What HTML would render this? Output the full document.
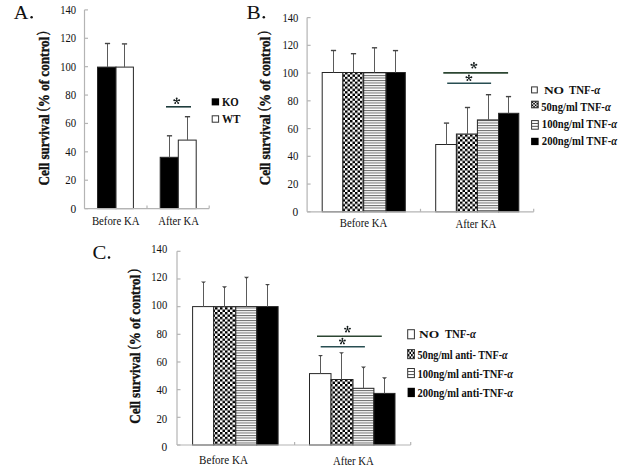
<!DOCTYPE html><html><head><meta charset="utf-8"><style>html,body{margin:0;padding:0;background:#fff;}svg{display:block;}text{font-family:"Liberation Serif",serif;fill:#111;}</style></head><body>
<svg width="628" height="471" viewBox="0 0 628 471">
<defs>
<pattern id="chk" width="5.0" height="4.8" patternUnits="userSpaceOnUse"><rect width="5.0" height="4.8" fill="#fff"/><rect x="0" y="0" width="2.5" height="2.4" fill="#000"/><rect x="2.5" y="2.4" width="2.5" height="2.4" fill="#000"/></pattern>
<pattern id="str" width="4" height="2.5" patternUnits="userSpaceOnUse"><rect width="4" height="2.5" fill="#fff"/><rect x="0" y="0" width="4" height="1.0" fill="#6a6a6a"/></pattern>
</defs>
<rect width="628" height="471" fill="#fff"/>
<text x="13.80" y="18.50" font-size="18.3" text-anchor="start" font-weight="normal" textLength="14.60" lengthAdjust="spacingAndGlyphs" >A</text>
<circle cx="31.6" cy="17.2" r="1.25" fill="#111"/>
<rect x="97.50" y="67.10" width="18.50" height="141.50" fill="#000" stroke="#262626" stroke-width="1"/>
<rect x="116.00" y="67.10" width="17.40" height="141.50" fill="#fff" stroke="#262626" stroke-width="1"/>
<rect x="160.20" y="157.30" width="18.10" height="51.30" fill="#000" stroke="#262626" stroke-width="1"/>
<rect x="178.30" y="140.10" width="17.90" height="68.50" fill="#fff" stroke="#262626" stroke-width="1"/>
<line x1="84.50" y1="9.90" x2="84.50" y2="208.60" stroke="#b4b4b4" stroke-width="1.2"/>
<line x1="84.50" y1="208.60" x2="209.20" y2="208.60" stroke="#b4b4b4" stroke-width="1.2"/>
<line x1="84.50" y1="208.60" x2="88.00" y2="208.60" stroke="#b4b4b4" stroke-width="1.2"/>
<text x="76.10" y="212.60" font-size="12" text-anchor="end" font-weight="normal" textLength="5.70" lengthAdjust="spacingAndGlyphs" >0</text>
<line x1="84.50" y1="180.21" x2="88.00" y2="180.21" stroke="#b4b4b4" stroke-width="1.2"/>
<text x="76.10" y="184.21" font-size="12" text-anchor="end" font-weight="normal" textLength="10.80" lengthAdjust="spacingAndGlyphs" >20</text>
<line x1="84.50" y1="151.83" x2="88.00" y2="151.83" stroke="#b4b4b4" stroke-width="1.2"/>
<text x="76.10" y="155.83" font-size="12" text-anchor="end" font-weight="normal" textLength="10.80" lengthAdjust="spacingAndGlyphs" >40</text>
<line x1="84.50" y1="123.44" x2="88.00" y2="123.44" stroke="#b4b4b4" stroke-width="1.2"/>
<text x="76.10" y="127.44" font-size="12" text-anchor="end" font-weight="normal" textLength="10.80" lengthAdjust="spacingAndGlyphs" >60</text>
<line x1="84.50" y1="95.06" x2="88.00" y2="95.06" stroke="#b4b4b4" stroke-width="1.2"/>
<text x="76.10" y="99.06" font-size="12" text-anchor="end" font-weight="normal" textLength="10.80" lengthAdjust="spacingAndGlyphs" >80</text>
<line x1="84.50" y1="66.67" x2="88.00" y2="66.67" stroke="#b4b4b4" stroke-width="1.2"/>
<text x="76.10" y="70.67" font-size="12" text-anchor="end" font-weight="normal" textLength="15.90" lengthAdjust="spacingAndGlyphs" >100</text>
<line x1="84.50" y1="38.29" x2="88.00" y2="38.29" stroke="#b4b4b4" stroke-width="1.2"/>
<text x="76.10" y="42.29" font-size="12" text-anchor="end" font-weight="normal" textLength="15.90" lengthAdjust="spacingAndGlyphs" >120</text>
<line x1="84.50" y1="9.90" x2="88.00" y2="9.90" stroke="#b4b4b4" stroke-width="1.2"/>
<text x="76.10" y="13.90" font-size="12" text-anchor="end" font-weight="normal" textLength="15.90" lengthAdjust="spacingAndGlyphs" >140</text>
<line x1="147.00" y1="208.60" x2="147.00" y2="205.60" stroke="#b4b4b4" stroke-width="1.2"/>
<line x1="209.20" y1="208.60" x2="209.20" y2="205.60" stroke="#b4b4b4" stroke-width="1.2"/>
<line x1="107.50" y1="67.10" x2="107.50" y2="43.80" stroke="#5a5a5a" stroke-width="1"/>
<line x1="104.90" y1="43.50" x2="110.10" y2="43.50" stroke="#444" stroke-width="1.4"/>
<line x1="124.50" y1="67.10" x2="124.50" y2="44.20" stroke="#5a5a5a" stroke-width="1"/>
<line x1="121.90" y1="43.90" x2="127.10" y2="43.90" stroke="#444" stroke-width="1.4"/>
<line x1="169.50" y1="157.30" x2="169.50" y2="136.10" stroke="#5a5a5a" stroke-width="1"/>
<line x1="166.90" y1="135.80" x2="172.10" y2="135.80" stroke="#444" stroke-width="1.4"/>
<line x1="187.50" y1="140.10" x2="187.50" y2="117.00" stroke="#5a5a5a" stroke-width="1"/>
<line x1="184.90" y1="116.70" x2="190.10" y2="116.70" stroke="#444" stroke-width="1.4"/>
<text x="91.90" y="225.10" font-size="11.5" text-anchor="start" font-weight="normal" textLength="47.60" lengthAdjust="spacingAndGlyphs" >Before KA</text>
<text x="158.30" y="225.20" font-size="11.5" text-anchor="start" font-weight="normal" textLength="40.60" lengthAdjust="spacingAndGlyphs" >After KA</text>
<text transform="translate(48.70,185.40) rotate(-90)" x="0" y="0" font-size="15.5" font-weight="bold" style="stroke:#111;stroke-width:0.4" textLength="154.20" lengthAdjust="spacingAndGlyphs">Cell survival <tspan font-weight="normal" font-size="14" dy="-1.8">(</tspan><tspan dy="1.8">%</tspan> of control<tspan font-weight="normal" font-size="14" dx="2" dy="-1.8">)</tspan></text>
<line x1="166.00" y1="106.80" x2="191.00" y2="106.80" stroke="#1e3c3c" stroke-width="1.6"/>
<path d="M176.70,101.00L176.70,98.40M176.70,101.00L179.17,100.20M176.70,101.00L178.23,103.10M176.70,101.00L175.17,103.10M176.70,101.00L174.23,100.20" stroke="#161e1e" stroke-width="1.0" fill="none"/><circle cx="176.70" cy="98.40" r="0.95" fill="#161e1e"/><circle cx="179.17" cy="100.20" r="0.95" fill="#161e1e"/><circle cx="178.23" cy="103.10" r="0.95" fill="#161e1e"/><circle cx="175.17" cy="103.10" r="0.95" fill="#161e1e"/><circle cx="174.23" cy="100.20" r="0.95" fill="#161e1e"/>
<rect x="211.70" y="98.30" width="7.40" height="7.10" fill="#000" stroke="none" stroke-width="0"/>
<rect x="212.20" y="115.80" width="6.40" height="6.40" fill="#fff" stroke="#333" stroke-width="1"/>
<text x="221.90" y="105.70" font-size="12" text-anchor="start" font-weight="bold" textLength="16.90" lengthAdjust="spacingAndGlyphs" >KO</text>
<text x="221.90" y="122.70" font-size="12" text-anchor="start" font-weight="bold" textLength="18.60" lengthAdjust="spacingAndGlyphs" >WT</text>
<text x="246.60" y="18.50" font-size="19" text-anchor="start" font-weight="normal" textLength="14.20" lengthAdjust="spacingAndGlyphs" >B</text>
<circle cx="263.8" cy="17.2" r="1.25" fill="#111"/>
<rect x="322.20" y="72.50" width="20.70" height="139.30" fill="#fff" stroke="#262626" stroke-width="1"/>
<rect x="342.90" y="72.50" width="20.80" height="139.30" fill="url(#chk)" stroke="#262626" stroke-width="1"/>
<rect x="363.70" y="72.50" width="22.40" height="139.30" fill="url(#str)" stroke="#262626" stroke-width="1"/>
<rect x="386.10" y="72.50" width="19.20" height="139.30" fill="#000" stroke="#262626" stroke-width="1"/>
<rect x="435.70" y="144.50" width="20.70" height="67.30" fill="#fff" stroke="#262626" stroke-width="1"/>
<rect x="456.40" y="134.00" width="21.00" height="77.80" fill="url(#chk)" stroke="#262626" stroke-width="1"/>
<rect x="477.40" y="119.90" width="21.20" height="91.90" fill="url(#str)" stroke="#262626" stroke-width="1"/>
<rect x="498.60" y="113.30" width="20.20" height="98.50" fill="#000" stroke="#262626" stroke-width="1"/>
<line x1="307.10" y1="17.60" x2="307.10" y2="211.80" stroke="#b4b4b4" stroke-width="1.2"/>
<line x1="307.10" y1="211.80" x2="533.70" y2="211.80" stroke="#b4b4b4" stroke-width="1.2"/>
<line x1="307.10" y1="211.80" x2="310.60" y2="211.80" stroke="#b4b4b4" stroke-width="1.2"/>
<text x="298.30" y="215.80" font-size="12" text-anchor="end" font-weight="normal" textLength="5.70" lengthAdjust="spacingAndGlyphs" >0</text>
<line x1="307.10" y1="184.06" x2="310.60" y2="184.06" stroke="#b4b4b4" stroke-width="1.2"/>
<text x="298.30" y="188.06" font-size="12" text-anchor="end" font-weight="normal" textLength="10.80" lengthAdjust="spacingAndGlyphs" >20</text>
<line x1="307.10" y1="156.31" x2="310.60" y2="156.31" stroke="#b4b4b4" stroke-width="1.2"/>
<text x="298.30" y="160.31" font-size="12" text-anchor="end" font-weight="normal" textLength="10.80" lengthAdjust="spacingAndGlyphs" >40</text>
<line x1="307.10" y1="128.57" x2="310.60" y2="128.57" stroke="#b4b4b4" stroke-width="1.2"/>
<text x="298.30" y="132.57" font-size="12" text-anchor="end" font-weight="normal" textLength="10.80" lengthAdjust="spacingAndGlyphs" >60</text>
<line x1="307.10" y1="100.83" x2="310.60" y2="100.83" stroke="#b4b4b4" stroke-width="1.2"/>
<text x="298.30" y="104.83" font-size="12" text-anchor="end" font-weight="normal" textLength="10.80" lengthAdjust="spacingAndGlyphs" >80</text>
<line x1="307.10" y1="73.09" x2="310.60" y2="73.09" stroke="#b4b4b4" stroke-width="1.2"/>
<text x="298.30" y="77.09" font-size="12" text-anchor="end" font-weight="normal" textLength="15.90" lengthAdjust="spacingAndGlyphs" >100</text>
<line x1="307.10" y1="45.34" x2="310.60" y2="45.34" stroke="#b4b4b4" stroke-width="1.2"/>
<text x="298.30" y="49.34" font-size="12" text-anchor="end" font-weight="normal" textLength="15.90" lengthAdjust="spacingAndGlyphs" >120</text>
<line x1="307.10" y1="17.60" x2="310.60" y2="17.60" stroke="#b4b4b4" stroke-width="1.2"/>
<text x="298.30" y="21.60" font-size="12" text-anchor="end" font-weight="normal" textLength="15.90" lengthAdjust="spacingAndGlyphs" >140</text>
<line x1="420.50" y1="211.80" x2="420.50" y2="208.80" stroke="#b4b4b4" stroke-width="1.2"/>
<line x1="533.70" y1="211.80" x2="533.70" y2="208.80" stroke="#b4b4b4" stroke-width="1.2"/>
<line x1="333.50" y1="72.50" x2="333.50" y2="50.80" stroke="#5a5a5a" stroke-width="1"/>
<line x1="330.90" y1="50.50" x2="336.10" y2="50.50" stroke="#444" stroke-width="1.4"/>
<line x1="353.50" y1="72.50" x2="353.50" y2="54.00" stroke="#5a5a5a" stroke-width="1"/>
<line x1="350.90" y1="53.70" x2="356.10" y2="53.70" stroke="#444" stroke-width="1.4"/>
<line x1="374.50" y1="72.50" x2="374.50" y2="48.10" stroke="#5a5a5a" stroke-width="1"/>
<line x1="371.90" y1="47.80" x2="377.10" y2="47.80" stroke="#444" stroke-width="1.4"/>
<line x1="395.50" y1="72.50" x2="395.50" y2="50.90" stroke="#5a5a5a" stroke-width="1"/>
<line x1="392.90" y1="50.60" x2="398.10" y2="50.60" stroke="#444" stroke-width="1.4"/>
<line x1="446.50" y1="144.50" x2="446.50" y2="123.40" stroke="#5a5a5a" stroke-width="1"/>
<line x1="443.90" y1="123.10" x2="449.10" y2="123.10" stroke="#444" stroke-width="1.4"/>
<line x1="467.50" y1="134.00" x2="467.50" y2="107.80" stroke="#5a5a5a" stroke-width="1"/>
<line x1="464.90" y1="107.50" x2="470.10" y2="107.50" stroke="#444" stroke-width="1.4"/>
<line x1="488.50" y1="119.90" x2="488.50" y2="95.00" stroke="#5a5a5a" stroke-width="1"/>
<line x1="485.90" y1="94.70" x2="491.10" y2="94.70" stroke="#444" stroke-width="1.4"/>
<line x1="508.50" y1="113.30" x2="508.50" y2="96.90" stroke="#5a5a5a" stroke-width="1"/>
<line x1="505.90" y1="96.60" x2="511.10" y2="96.60" stroke="#444" stroke-width="1.4"/>
<text x="339.80" y="227.20" font-size="11.5" text-anchor="start" font-weight="normal" textLength="47.40" lengthAdjust="spacingAndGlyphs" >Before KA</text>
<text x="455.50" y="228.00" font-size="11.5" text-anchor="start" font-weight="normal" textLength="40.80" lengthAdjust="spacingAndGlyphs" >After KA</text>
<text transform="translate(270.00,185.30) rotate(-90)" x="0" y="0" font-size="15.5" font-weight="bold" style="stroke:#111;stroke-width:0.4" textLength="154.20" lengthAdjust="spacingAndGlyphs">Cell survival <tspan font-weight="normal" font-size="14" dy="-1.8">(</tspan><tspan dy="1.8">%</tspan> of control<tspan font-weight="normal" font-size="14" dx="2" dy="-1.8">)</tspan></text>
<line x1="443.30" y1="72.90" x2="508.10" y2="72.90" stroke="#2c4632" stroke-width="1.6"/>
<path d="M473.90,65.50L473.90,62.90M473.90,65.50L476.37,64.70M473.90,65.50L475.43,67.60M473.90,65.50L472.37,67.60M473.90,65.50L471.43,64.70" stroke="#161e1e" stroke-width="1.0" fill="none"/><circle cx="473.90" cy="62.90" r="0.95" fill="#161e1e"/><circle cx="476.37" cy="64.70" r="0.95" fill="#161e1e"/><circle cx="475.43" cy="67.60" r="0.95" fill="#161e1e"/><circle cx="472.37" cy="67.60" r="0.95" fill="#161e1e"/><circle cx="471.43" cy="64.70" r="0.95" fill="#161e1e"/>
<line x1="447.20" y1="83.30" x2="491.10" y2="83.30" stroke="#284e52" stroke-width="1.6"/>
<path d="M468.90,78.00L468.90,75.40M468.90,78.00L471.37,77.20M468.90,78.00L470.43,80.10M468.90,78.00L467.37,80.10M468.90,78.00L466.43,77.20" stroke="#161e1e" stroke-width="1.0" fill="none"/><circle cx="468.90" cy="75.40" r="0.95" fill="#161e1e"/><circle cx="471.37" cy="77.20" r="0.95" fill="#161e1e"/><circle cx="470.43" cy="80.10" r="0.95" fill="#161e1e"/><circle cx="467.37" cy="80.10" r="0.95" fill="#161e1e"/><circle cx="466.43" cy="77.20" r="0.95" fill="#161e1e"/>
<rect x="531.60" y="86.90" width="5.70" height="6.00" fill="#fff" stroke="#333" stroke-width="1"/>
<rect x="531.60" y="101.30" width="6.50" height="6.40" fill="#fff" stroke="#555" stroke-width="1"/>
<rect x="531.60" y="101.30" width="1.62" height="1.60" fill="#000"/>
<rect x="531.60" y="104.50" width="1.62" height="1.60" fill="#000"/>
<rect x="533.23" y="102.90" width="1.62" height="1.60" fill="#000"/>
<rect x="533.23" y="106.10" width="1.62" height="1.60" fill="#000"/>
<rect x="534.85" y="101.30" width="1.62" height="1.60" fill="#000"/>
<rect x="534.85" y="104.50" width="1.62" height="1.60" fill="#000"/>
<rect x="536.48" y="102.90" width="1.62" height="1.60" fill="#000"/>
<rect x="536.48" y="106.10" width="1.62" height="1.60" fill="#000"/>
<rect x="531.60" y="101.30" width="6.50" height="6.40" fill="none" stroke="#444" stroke-width="1"/>
<rect x="531.60" y="120.60" width="6.70" height="8.60" fill="#fff" stroke="#333" stroke-width="1"/>
<line x1="531.60" y1="123.47" x2="538.30" y2="123.47" stroke="#555" stroke-width="1"/>
<line x1="531.60" y1="126.33" x2="538.30" y2="126.33" stroke="#555" stroke-width="1"/>
<rect x="531.10" y="137.80" width="7.50" height="7.30" fill="#000" stroke="none" stroke-width="0"/>
<text x="543.90" y="94.00" font-size="11" text-anchor="start" font-weight="bold" textLength="20.20" lengthAdjust="spacingAndGlyphs" >NO</text>
<text x="569.00" y="94.10" font-size="11.5" text-anchor="start" font-weight="bold" textLength="31.40" lengthAdjust="spacingAndGlyphs" >TNF-<tspan font-style="italic">α</tspan></text>
<text x="541.20" y="110.50" font-size="11.5" text-anchor="start" font-weight="bold" textLength="69.60" lengthAdjust="spacingAndGlyphs" >50ng/ml TNF-<tspan font-style="italic">α</tspan></text>
<text x="541.80" y="128.30" font-size="11.5" text-anchor="start" font-weight="bold" textLength="75.40" lengthAdjust="spacingAndGlyphs" >100ng/ml TNF-<tspan font-style="italic">α</tspan></text>
<text x="541.80" y="145.20" font-size="11.5" text-anchor="start" font-weight="bold" textLength="75.40" lengthAdjust="spacingAndGlyphs" >200ng/ml TNF-<tspan font-style="italic">α</tspan></text>
<text x="92.40" y="258.80" font-size="18.3" text-anchor="start" font-weight="normal" textLength="13.90" lengthAdjust="spacingAndGlyphs" >C</text>
<circle cx="109.0" cy="257.5" r="1.25" fill="#111"/>
<rect x="192.60" y="306.60" width="21.10" height="138.40" fill="#fff" stroke="#262626" stroke-width="1"/>
<rect x="213.70" y="306.60" width="22.10" height="138.40" fill="url(#chk)" stroke="#262626" stroke-width="1"/>
<rect x="235.80" y="306.60" width="21.00" height="138.40" fill="url(#str)" stroke="#262626" stroke-width="1"/>
<rect x="256.80" y="306.60" width="21.30" height="138.40" fill="#000" stroke="#262626" stroke-width="1"/>
<rect x="309.50" y="373.60" width="21.50" height="71.40" fill="#fff" stroke="#262626" stroke-width="1"/>
<rect x="331.00" y="379.50" width="22.00" height="65.50" fill="url(#chk)" stroke="#262626" stroke-width="1"/>
<rect x="353.00" y="388.30" width="20.90" height="56.70" fill="url(#str)" stroke="#262626" stroke-width="1"/>
<rect x="373.90" y="393.40" width="21.10" height="51.60" fill="#000" stroke="#262626" stroke-width="1"/>
<line x1="177.00" y1="251.30" x2="177.00" y2="445.00" stroke="#b4b4b4" stroke-width="1.2"/>
<line x1="177.00" y1="445.00" x2="410.70" y2="445.00" stroke="#b4b4b4" stroke-width="1.2"/>
<line x1="177.00" y1="445.00" x2="180.50" y2="445.00" stroke="#b4b4b4" stroke-width="1.2"/>
<text x="167.20" y="450.80" font-size="12" text-anchor="end" font-weight="normal" textLength="5.70" lengthAdjust="spacingAndGlyphs" >0</text>
<line x1="177.00" y1="417.33" x2="180.50" y2="417.33" stroke="#b4b4b4" stroke-width="1.2"/>
<text x="167.20" y="422.51" font-size="12" text-anchor="end" font-weight="normal" textLength="10.80" lengthAdjust="spacingAndGlyphs" >20</text>
<line x1="177.00" y1="389.66" x2="180.50" y2="389.66" stroke="#b4b4b4" stroke-width="1.2"/>
<text x="167.20" y="394.22" font-size="12" text-anchor="end" font-weight="normal" textLength="10.80" lengthAdjust="spacingAndGlyphs" >40</text>
<line x1="177.00" y1="361.99" x2="180.50" y2="361.99" stroke="#b4b4b4" stroke-width="1.2"/>
<text x="167.20" y="365.93" font-size="12" text-anchor="end" font-weight="normal" textLength="10.80" lengthAdjust="spacingAndGlyphs" >60</text>
<line x1="177.00" y1="334.31" x2="180.50" y2="334.31" stroke="#b4b4b4" stroke-width="1.2"/>
<text x="167.20" y="337.64" font-size="12" text-anchor="end" font-weight="normal" textLength="10.80" lengthAdjust="spacingAndGlyphs" >80</text>
<line x1="177.00" y1="306.64" x2="180.50" y2="306.64" stroke="#b4b4b4" stroke-width="1.2"/>
<text x="167.20" y="309.35" font-size="12" text-anchor="end" font-weight="normal" textLength="15.90" lengthAdjust="spacingAndGlyphs" >100</text>
<line x1="177.00" y1="278.97" x2="180.50" y2="278.97" stroke="#b4b4b4" stroke-width="1.2"/>
<text x="167.20" y="281.06" font-size="12" text-anchor="end" font-weight="normal" textLength="15.90" lengthAdjust="spacingAndGlyphs" >120</text>
<line x1="177.00" y1="251.30" x2="180.50" y2="251.30" stroke="#b4b4b4" stroke-width="1.2"/>
<text x="167.20" y="252.77" font-size="12" text-anchor="end" font-weight="normal" textLength="15.90" lengthAdjust="spacingAndGlyphs" >140</text>
<line x1="294.60" y1="445.00" x2="294.60" y2="442.00" stroke="#b4b4b4" stroke-width="1.2"/>
<line x1="410.70" y1="445.00" x2="410.70" y2="442.00" stroke="#b4b4b4" stroke-width="1.2"/>
<line x1="203.50" y1="306.60" x2="203.50" y2="282.20" stroke="#5a5a5a" stroke-width="1"/>
<path d="M201.00,281.50L206.00,281.50L204.10,283.10L202.90,283.10Z" fill="#444"/>
<line x1="224.50" y1="306.60" x2="224.50" y2="287.00" stroke="#5a5a5a" stroke-width="1"/>
<path d="M222.00,286.30L227.00,286.30L225.10,287.90L223.90,287.90Z" fill="#444"/>
<line x1="246.50" y1="306.60" x2="246.50" y2="277.50" stroke="#5a5a5a" stroke-width="1"/>
<path d="M244.00,276.80L249.00,276.80L247.10,278.40L245.90,278.40Z" fill="#444"/>
<line x1="267.50" y1="306.60" x2="267.50" y2="284.70" stroke="#5a5a5a" stroke-width="1"/>
<path d="M265.00,284.00L270.00,284.00L268.10,285.60L266.90,285.60Z" fill="#444"/>
<line x1="320.50" y1="373.60" x2="320.50" y2="355.70" stroke="#5a5a5a" stroke-width="1"/>
<path d="M318.00,355.00L323.00,355.00L321.10,356.60L319.90,356.60Z" fill="#444"/>
<line x1="341.50" y1="379.50" x2="341.50" y2="352.90" stroke="#5a5a5a" stroke-width="1"/>
<path d="M339.00,352.20L344.00,352.20L342.10,353.80L340.90,353.80Z" fill="#444"/>
<line x1="363.50" y1="388.30" x2="363.50" y2="367.30" stroke="#5a5a5a" stroke-width="1"/>
<path d="M361.00,366.60L366.00,366.60L364.10,368.20L362.90,368.20Z" fill="#444"/>
<line x1="384.50" y1="393.40" x2="384.50" y2="378.00" stroke="#5a5a5a" stroke-width="1"/>
<path d="M382.00,377.30L387.00,377.30L385.10,378.90L383.90,378.90Z" fill="#444"/>
<text x="199.10" y="464.30" font-size="11.5" text-anchor="start" font-weight="normal" textLength="48.90" lengthAdjust="spacingAndGlyphs" >Before KA</text>
<text x="333.10" y="464.60" font-size="11.5" text-anchor="start" font-weight="normal" textLength="40.70" lengthAdjust="spacingAndGlyphs" >After KA</text>
<text transform="translate(139.80,423.80) rotate(-90)" x="0" y="0" font-size="15.5" font-weight="bold" style="stroke:#111;stroke-width:0.4" textLength="154.70" lengthAdjust="spacingAndGlyphs">Cell survival <tspan font-weight="normal" font-size="14" dy="-1.8">(</tspan><tspan dy="1.8">%</tspan> of control<tspan font-weight="normal" font-size="14" dx="2" dy="-1.8">)</tspan></text>
<line x1="317.00" y1="336.20" x2="381.80" y2="336.20" stroke="#2c4632" stroke-width="1.6"/>
<path d="M347.50,329.40L347.50,326.80M347.50,329.40L349.97,328.60M347.50,329.40L349.03,331.50M347.50,329.40L345.97,331.50M347.50,329.40L345.03,328.60" stroke="#161e1e" stroke-width="1.0" fill="none"/><circle cx="347.50" cy="326.80" r="0.95" fill="#161e1e"/><circle cx="349.97" cy="328.60" r="0.95" fill="#161e1e"/><circle cx="349.03" cy="331.50" r="0.95" fill="#161e1e"/><circle cx="345.97" cy="331.50" r="0.95" fill="#161e1e"/><circle cx="345.03" cy="328.60" r="0.95" fill="#161e1e"/>
<line x1="320.70" y1="346.70" x2="364.90" y2="346.70" stroke="#284e52" stroke-width="1.6"/>
<path d="M342.40,341.30L342.40,338.70M342.40,341.30L344.87,340.50M342.40,341.30L343.93,343.40M342.40,341.30L340.87,343.40M342.40,341.30L339.93,340.50" stroke="#161e1e" stroke-width="1.0" fill="none"/><circle cx="342.40" cy="338.70" r="0.95" fill="#161e1e"/><circle cx="344.87" cy="340.50" r="0.95" fill="#161e1e"/><circle cx="343.93" cy="343.40" r="0.95" fill="#161e1e"/><circle cx="340.87" cy="343.40" r="0.95" fill="#161e1e"/><circle cx="339.93" cy="340.50" r="0.95" fill="#161e1e"/>
<rect x="407.70" y="329.70" width="6.70" height="9.10" fill="#fff" stroke="#333" stroke-width="1"/>
<rect x="407.70" y="349.50" width="6.70" height="9.10" fill="#fff" stroke="#555" stroke-width="1"/>
<rect x="407.70" y="349.50" width="1.67" height="2.28" fill="#000"/>
<rect x="407.70" y="354.05" width="1.67" height="2.28" fill="#000"/>
<rect x="409.38" y="351.77" width="1.67" height="2.28" fill="#000"/>
<rect x="409.38" y="356.33" width="1.67" height="2.28" fill="#000"/>
<rect x="411.05" y="349.50" width="1.67" height="2.28" fill="#000"/>
<rect x="411.05" y="354.05" width="1.67" height="2.28" fill="#000"/>
<rect x="412.72" y="351.77" width="1.67" height="2.28" fill="#000"/>
<rect x="412.72" y="356.33" width="1.67" height="2.28" fill="#000"/>
<rect x="407.70" y="349.50" width="6.70" height="9.10" fill="none" stroke="#444" stroke-width="1"/>
<rect x="407.70" y="368.50" width="6.70" height="9.10" fill="#fff" stroke="#333" stroke-width="1"/>
<line x1="407.70" y1="371.53" x2="414.40" y2="371.53" stroke="#555" stroke-width="1"/>
<line x1="407.70" y1="374.57" x2="414.40" y2="374.57" stroke="#555" stroke-width="1"/>
<rect x="407.60" y="387.80" width="7.30" height="9.30" fill="#000" stroke="none" stroke-width="0"/>
<text x="419.10" y="338.10" font-size="11" text-anchor="start" font-weight="bold" textLength="20.20" lengthAdjust="spacingAndGlyphs" >NO</text>
<text x="444.90" y="338.10" font-size="12" text-anchor="start" font-weight="bold" textLength="31.00" lengthAdjust="spacingAndGlyphs" >TNF-<tspan font-style="italic">α</tspan></text>
<text x="417.40" y="358.60" font-size="12" text-anchor="start" font-weight="bold" textLength="90.40" lengthAdjust="spacingAndGlyphs" >50ng/ml anti- TNF-<tspan font-style="italic">α</tspan></text>
<text x="417.40" y="378.20" font-size="12" text-anchor="start" font-weight="bold" textLength="95.70" lengthAdjust="spacingAndGlyphs" >100ng/ml anti-TNF-<tspan font-style="italic">α</tspan></text>
<text x="417.40" y="397.00" font-size="12" text-anchor="start" font-weight="bold" textLength="95.70" lengthAdjust="spacingAndGlyphs" >200ng/ml anti-TNF-<tspan font-style="italic">α</tspan></text>
</svg></body></html>
